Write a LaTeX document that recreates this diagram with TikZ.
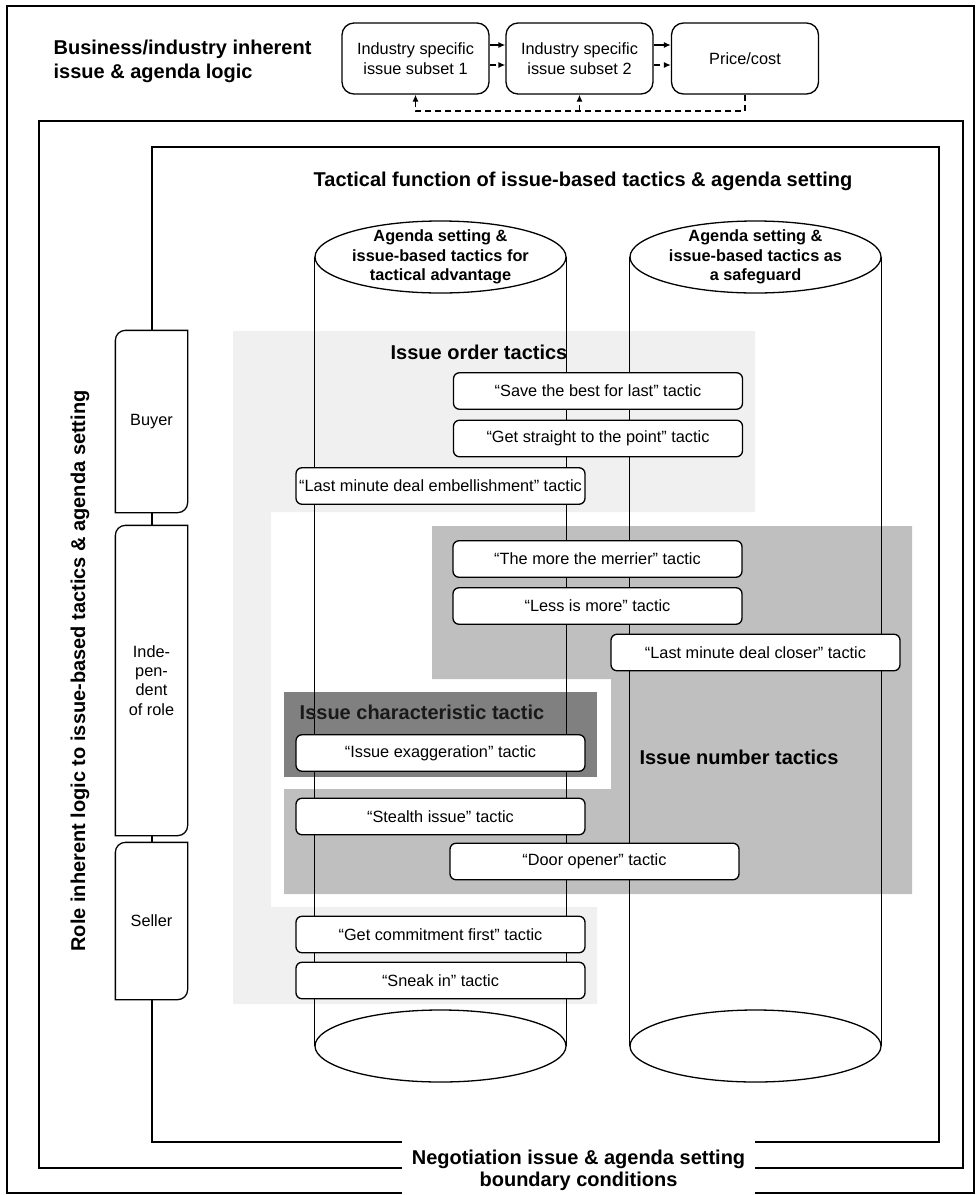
\documentclass[tikz,border=0pt]{standalone}
\usepackage{fontspec}
\setmainfont{Liberation Sans}
\usetikzlibrary{arrows.meta}
\usetikzlibrary{positioning}
\usetikzlibrary{shapes.geometric}
\definecolor{ordergray}{HTML}{F0F0F0}
\definecolor{numbergray}{HTML}{BFBFBF}
\definecolor{chargray}{HTML}{808080}
\tikzset{tactic/.style = {draw, fill=white, rounded corners=3pt, minimum width=144.5pt, minimum height=18.25pt, inner sep=0, font=\fontsize{8.15pt}{9.75pt}\selectfont}}
\tikzset{subset/.style = {draw, fill=white, rounded corners=6pt, minimum width=73.5pt, minimum height=35.5pt, inner sep=0, align=center, font=\fontsize{8.15pt}{9.75pt}\selectfont}}
\tikzset{cyltop/.style = {draw, fill=white, ellipse, minimum width=125.5pt, minimum height=36pt, inner sep=0}}
\tikzset{cyltext/.style = {align=center, inner sep=0, font=\fontsize{8.15pt}{9.75pt}\selectfont\bfseries}}
\tikzset{rolebox/.style = {fill=white, minimum width=35.5pt, inner sep=0, align=center, font=\fontsize{8.15pt}{9.6pt}\selectfont}}
\tikzset{head/.style = {inner sep=0, font=\fontsize{10pt}{12pt}\selectfont\bfseries}}
\tikzset{flow/.style = {-{Latex[length=3.5pt,width=3pt]}}}
\newcommand{\roleframe}[1]{\draw (#1.south west) -- ([yshift=-5pt]#1.north west) arc[start angle=180, end angle=90, radius=5pt] -- (#1.north east) -- ([yshift=5pt]#1.south east) arc[start angle=0, end angle=-90, radius=5pt] -- cycle;}

\begin{document}
\begin{tikzpicture}[x=0.5pt, y=-0.5pt, line width=0.65pt]
        \useasboundingbox (0,0) rectangle (979,1195);
        % shaded tactic groups
        \fill [ordergray] (233,331) rectangle (755,512) (233,512) rectangle (271,907) (233,907) rectangle (597,1004);
        \fill [numbergray] (432,526) -- (912,526) -- (912,894) -- (284,894) -- (284,789) -- (611,789) -- (611,679) -- (432,679) -- cycle;
        \fill [chargray] (284,692) rectangle (597,777);
        % frames
        \draw (7,6) rectangle (974,1193);
        \draw (39,121) rectangle (963,1168);
        \draw (152,147) rectangle (939,1142);
        % cylinders
        \node[cyltop] (adv) at (440.5,257) {};
        \node[cyltop] (advbase) at (440.5,1046) {};
        \node[cyltop] (safe) at (755.5,257) {};
        \node[cyltop] (safebase) at (755.5,1046) {};
        \draw (adv.west) -- (advbase.west) (adv.east) -- (advbase.east);
        \draw (safe.west) -- (safebase.west) (safe.east) -- (safebase.east);
        \node[cyltext] (advtext) at (adv) {Agenda setting \&\\issue-based tactics for\\tactical advantage};
        \node[cyltext] (safetext) at (safe) {Agenda setting \&\\issue-based tactics as\\a safeguard};
        % headings
        \node[head] (tactical) at (583,181) {Tactical function of issue-based tactics \& agenda setting};
        \node[head] (order) at (479,352) {Issue order tactics};
        \node[head] (number) at (739,757) {Issue number tactics};
        \node[head, text=black!90] (charac) at (422,712) {Issue characteristic tactic};
        \node[head, rotate=90] (rolelogic) at (80,671) {Role inherent logic to issue-based tactics \& agenda setting};
        % tactics
        \node[tactic] (save) at (598,391) {“Save the best for last” tactic};
        \node[tactic] (straight) at (598,438.5) {“Get straight to the point” tactic};
        \node[tactic] (embell) at (440.5,486) {“Last minute deal embellishment” tactic};
        \node[tactic] (merrier) at (597.5,559) {“The more the merrier” tactic};
        \node[tactic] (lessmore) at (597.5,606) {“Less is more” tactic};
        \node[tactic] (closer) at (755.5,652.5) {“Last minute deal closer” tactic};
        \node[tactic] (exagg) at (440.5,753) {“Issue exaggeration” tactic};
        \node[tactic] (stealth) at (440.5,816.5) {“Stealth issue” tactic};
        \node[tactic] (door) at (594.5,861.5) {“Door opener” tactic};
        \node[tactic] (commit) at (440.5,934.5) {“Get commitment first” tactic};
        \node[tactic] (sneak) at (440.5,980.5) {“Sneak in” tactic};
        % roles
        \node[rolebox, minimum height=90.5pt] (buyer) at (151.5,421.5) {Buyer};
        \node[rolebox, minimum height=154.5pt] (indep) at (151.5,680.5) {Inde-\\pen-\\dent\\of role};
        \node[rolebox, minimum height=78pt] (seller) at (151.5,921) {Seller};
        \roleframe{buyer}
        \roleframe{indep}
        \roleframe{seller}
        % industry logic
        \node[head, anchor=west, align=left] (industry) at (53,61) {Business/industry inherent\\issue \& agenda logic};
        \node[subset] (sub1) at (415.5,58.5) {Industry specific\\issue subset 1};
        \node[subset] (sub2) at (579.5,58.5) {Industry specific\\issue subset 2};
        \node[subset] (price) at (745,58.5) {Price/cost};
        \draw[flow] ([yshift=6.75pt]sub1.east) -- ([yshift=6.75pt]sub2.west);
        \draw[flow] ([yshift=6.75pt]sub2.east) -- ([yshift=6.75pt]price.west);
        \draw[flow, dashed] ([yshift=-3.25pt]sub1.east) -- ([yshift=-3.25pt]sub2.west);
        \draw[flow, dashed] ([yshift=-3.25pt]sub2.east) -- ([yshift=-3.25pt]price.west);
        \coordinate (loop) at (0,111);
        \draw[flow, dash pattern=on 3pt off 2pt] (price.south) -- (price.south |- loop) -| (sub1.south);
        \draw[flow, dash pattern=on 3pt off 2pt] (sub2.south |- loop) -- (sub2.south);
        % boundary conditions
        \node[head, fill=white, align=center, minimum width=176.5pt, minimum height=32pt, font=\fontsize{10pt}{11pt}\selectfont\bfseries] (bounds) at (578.5,1170) {Negotiation issue \& agenda setting\\boundary conditions};
\end{tikzpicture}
\end{document}
